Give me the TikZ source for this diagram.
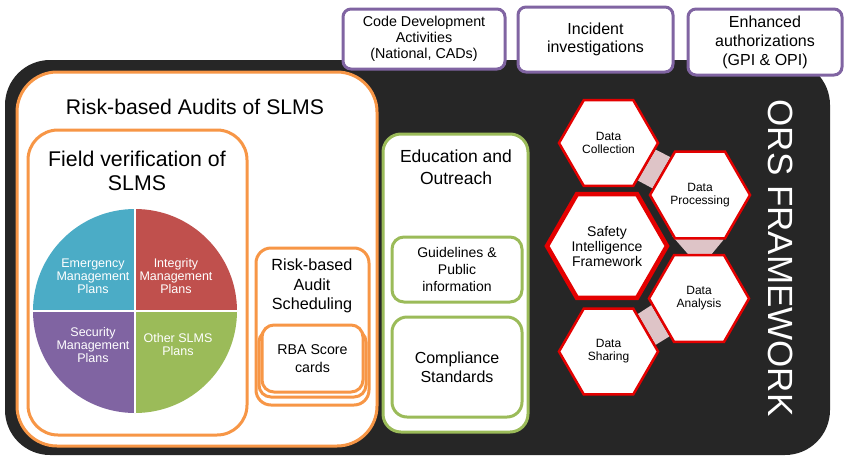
\documentclass[tikz,border=0pt]{standalone}
\usepackage{fontspec}
\setmainfont{Liberation Sans}
\usetikzlibrary{shapes.geometric,calc}
\definecolor{blk}{RGB}{38,38,38}
\definecolor{org}{RGB}{247,150,70}
\definecolor{pur}{RGB}{128,100,162}
\definecolor{grn}{RGB}{155,187,89}
\definecolor{pieblue}{RGB}{75,172,198}
\definecolor{piered}{RGB}{192,80,77}
\definecolor{hexred}{RGB}{228,0,0}
\definecolor{lpink}{RGB}{222,196,199}
\pgfdeclarelayer{back}
\pgfdeclarelayer{bg}
\pgfsetlayers{back,bg,main}
\newcommand{\fs}[2]{\fontsize{#1}{#2}\selectfont}
\begin{document}
\begin{tikzpicture}[x=1pt,y=-1pt,
  rbox/.style={draw, rounded corners=#1, line width=3pt, fill=white, inner sep=0pt, align=center},
  obox/.style={rbox=#1, draw=org},
  gbox/.style={rbox=#1, draw=grn},
  pbox/.style={rbox=#1, draw=pur},
  hexa/.style={regular polygon, regular polygon sides=6, draw=hexred, line width=2.5pt,
    fill=white, inner sep=0pt, minimum size=#1, align=center, font=\fs{12}{13}},
  pielabel/.style={text=white, align=center, font=\fs{12.5}{13}},
  title/.style={align=center, inner sep=0pt}
]
\useasboundingbox (0,0) rectangle (850,466);

% black frame
\begin{pgfonlayer}{back}
\node[fill=blk, rounded corners=45pt, minimum width=825pt, minimum height=395pt, inner sep=0pt] (ors) at (417.5,257.5) {};
\end{pgfonlayer}
\node[rotate=-90, text=white, font=\fs{35}{40}] (orstext) at (781,258) {ORS FRAMEWORK};

% purple boxes on top
\node[pbox=8pt, minimum width=162pt, minimum height=60pt, font=\fs{14.3}{16}] (code) at (424,39) {Code Development\\Activities\\(National, CADs)};
\node[pbox=8pt, minimum width=155pt, minimum height=65pt, font=\fs{16}{18.5}] (incident) at (595.5,39.5) {Incident\\investigations};
\node[pbox=8pt, minimum width=154pt, minimum height=66pt, font=\fs{16}{19}] (enh) at (765,42) {Enhanced\\authorizations\\(GPI \& OPI)};

% risk based audits
\node[obox=40pt, minimum width=360pt, minimum height=374pt] (rba) at (197,259) {};
\node[title, font=\fs{21.2}{24}] (rbatitle) at (195,107) {Risk-based Audits of SLMS};

\node[obox=30pt, minimum width=219pt, minimum height=305pt] (field) at (137.5,282.5) {};
\node[title, font=\fs{21.3}{24}] (fieldtitle) at (137,171) {Field verification of\\SLMS};

% pie
\node[circle, minimum size=204pt, inner sep=0pt] (pie) at (135,311) {};
\begin{scope}
\clip (pie.center) rectangle ($(pie.center)+(-110,-110)$);
\fill[pieblue] (pie.center) circle[radius=102pt];
\end{scope}
\begin{scope}
\clip (pie.center) rectangle ($(pie.center)+(110,-110)$);
\fill[piered] (pie.center) circle[radius=102pt];
\end{scope}
\begin{scope}
\clip (pie.center) rectangle ($(pie.center)+(-110,110)$);
\fill[pur] (pie.center) circle[radius=102pt];
\end{scope}
\begin{scope}
\clip (pie.center) rectangle ($(pie.center)+(110,110)$);
\fill[grn] (pie.center) circle[radius=102pt];
\end{scope}
\draw[white, line width=2.5pt] (pie.north) -- (pie.south) (pie.west) -- (pie.east);
\node[pielabel] (emp) at (93,276) {Emergency\\Management\\Plans};
\node[pielabel] (imp) at (176,276) {Integrity\\Management\\Plans};
\node[pielabel] (smp) at (93,345) {Security\\Management\\Plans};
\node[pielabel] (osp) at (178,345) {Other SLMS\\Plans};

% scheduling
\node[obox=15pt, minimum width=113pt, minimum height=157pt] (sched) at (312.5,326.5) {};
\node[title, font=\fs{16.2}{19.2}] (schedtitle) at (312,286) {Risk-based\\Audit\\Scheduling};
\node[obox=12pt, minimum width=107pt, minimum height=67pt] (scback) at (312.5,363.5) {};
\node[obox=12pt, minimum width=101pt, minimum height=67pt, font=\fs{14.2}{17.7}] (score) at (312.5,358.5) {RBA Score\\cards};

% education
\node[gbox=18pt, minimum width=145pt, minimum height=298pt] (edu) at (455.5,283) {};
\node[title, font=\fs{17.5}{21.7}] (edutitle) at (456,167) {Education and\\Outreach};
\node[gbox=12pt, minimum width=130pt, minimum height=65pt, font=\fs{14}{16.7}] (guide) at (457,269.5) {Guidelines \&\\Public\\information};
\node[gbox=15pt, minimum width=130pt, minimum height=100pt, font=\fs{16}{19.3}] (comp) at (457,367) {Compliance\\Standards};

% hexagons
\node[hexa=99pt] (dc) at (608.5,143) {Data\\Collection};
\node[hexa=100pt] (dp) at (700,195) {Data\\Processing};
\node[hexa=120pt, line width=4.5pt, font=\fs{14}{15}] (sif) at (607,246) {Safety\\Intelligence\\Framework};
\node[hexa=100pt] (da) at (699,298.5) {Data\\Analysis};
\node[hexa=99pt] (ds) at (608.5,351.5) {Data\\Sharing};

\begin{pgfonlayer}{bg}
\fill[lpink] (dc.-8) -- (dc.-52) -- (dp.172) -- (dp.128) -- cycle;
\fill[lpink] (dp.-124) -- (dp.-62) -- (da.74) -- (da.104) -- cycle;
\fill[lpink] (da.188) -- (da.232) -- (ds.8) -- (ds.52) -- cycle;
\end{pgfonlayer}
\end{tikzpicture}
\end{document}
